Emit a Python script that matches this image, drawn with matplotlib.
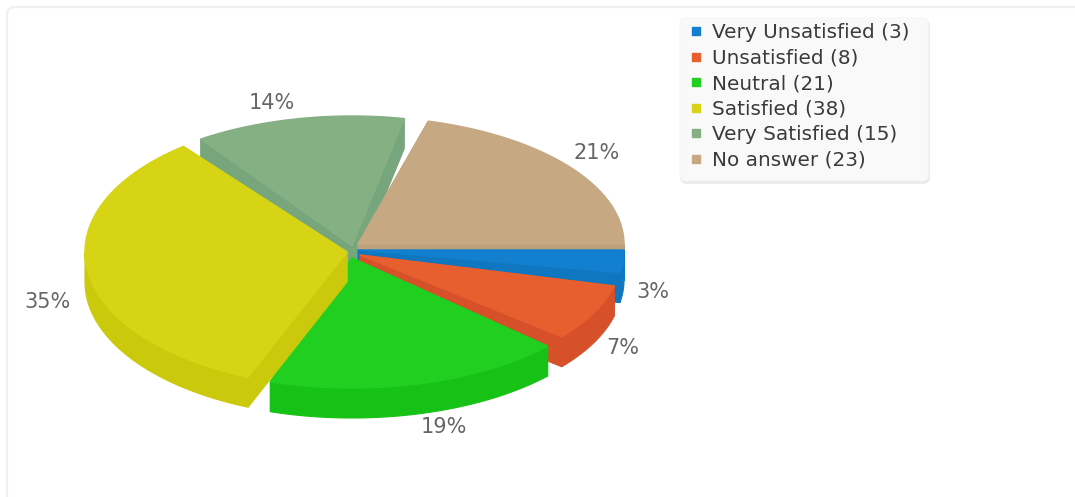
import numpy as np
import matplotlib
matplotlib.use("Agg")
import matplotlib.pyplot as plt
from matplotlib.patches import Polygon, FancyBboxPatch
from matplotlib.lines import Line2D

categories = ["Very Unsatisfied", "Unsatisfied", "Neutral", "Satisfied", "Very Satisfied", "No answer"]
counts = [3, 8, 21, 38, 15, 23]
percent_labels = ["3%", "7%", "19%", "35%", "14%", "21%"]

top_colors = ["#1280cf", "#e85f2f", "#20cf20", "#d6d415", "#84b084", "#c6a883"]
side_colors = ["#0f76c0", "#d6502a", "#17c217", "#cbc90c", "#78a67c", "#bda07c"]
# styling: per-slice geometry of the exploded drawing (pixels / degrees)
apex_x = [358, 360, 352, 347, 352, 358]
apex_y = [250, 255, 258, 252, 246, 244]
trim_start = [0, 4, 6, 5.5, 2, 2]
trim_end = [0, 3, 1.2, -2, -2, 0]
scale_x = [1.0, 0.985, 1.0, 0.985, 1.0, 1.0]
scale_y = [1.0, 0.985, 1.0, 1.04, 1.0, 0.98]
label_x = [653, 623, 444, 47, 272, 597]
label_y = [292, 348, 427, 302, 103, 153]
draw_order = [4, 5, 0, 1, 2, 3]

RX, RY, DEPTH = 266, 130, 30

fig = plt.figure(figsize=(10.75, 4.97), dpi=100)
ax = fig.add_axes([0, 0, 1, 1])
ax.set_xlim(0, 1075)
ax.set_ylim(497, 0)
ax.axis("off")

ax.add_patch(FancyBboxPatch((7, 7), 1200, 600, boxstyle="round,pad=0,rounding_size=8",
                            fc="white", ec="#efefef", lw=1.6))

edges = np.cumsum([0] + counts) / sum(counts) * 360


def arc(i, a0, a1):
    t = np.radians(np.linspace(a0, a1, 80))
    return np.column_stack([apex_x[i] + RX * scale_x[i] * np.cos(t),
                            apex_y[i] + RY * scale_y[i] * np.sin(t)])


for i in draw_order:
    z = 2 + draw_order.index(i)
    a0 = edges[i] + trim_start[i]
    a1 = edges[i + 1] + trim_end[i]
    apex = np.array([apex_x[i], apex_y[i]], float)
    down = np.array([0, DEPTH])
    pts = arc(i, a0, a1)
    # radial side faces
    for corner in (pts[0], pts[-1]):
        quad = np.array([apex, corner, corner + down, apex + down])
        ax.add_patch(Polygon(quad, fc=side_colors[i], ec=side_colors[i], lw=0.8, zorder=z))
    # outer rim facing the viewer
    lo, hi = max(a0, 0), min(a1, 180)
    if hi > lo:
        rim = arc(i, lo, hi)
        band = np.vstack([rim, (rim + down)[::-1]])
        ax.add_patch(Polygon(band, fc=side_colors[i], ec=side_colors[i], lw=0.8, zorder=z))
    # top face
    ax.add_patch(Polygon(np.vstack([apex, pts]), fc=top_colors[i], ec=top_colors[i], lw=1.0,
                         joinstyle="round", zorder=z))

for x, y, s in zip(label_x, label_y, percent_labels):
    ax.text(x, y, s, ha="center", va="center", fontsize=15, color="#666666", zorder=20)

# legend panel with soft shadow
ax.add_patch(FancyBboxPatch((681, 20), 248, 163, boxstyle="round,pad=0,rounding_size=6",
                            fc="#e2e2e2", ec="#ececec", lw=1.5, zorder=28))
ax.add_patch(FancyBboxPatch((680, 18), 248, 163, boxstyle="round,pad=0,rounding_size=6",
                            fc="#f9f9f9", ec="#f6f6f6", lw=0.8, zorder=29))

handles = [Line2D([], [], ls="none", marker="s", ms=6, color=c) for c in top_colors]
labels = [f"{c} ({n})" for c, n in zip(categories, counts)]
leg = ax.legend(handles, labels, loc="upper left", bbox_to_anchor=(690.5 / 1075, 1 - 23 / 497),
                frameon=False, fontsize=14.4, labelcolor="#3a3a3a", handlelength=0.55,
                handletextpad=0.55, labelspacing=0.33, borderpad=0, borderaxespad=0)
leg.set_zorder(30)

fig.savefig("out.png", dpi=100)
